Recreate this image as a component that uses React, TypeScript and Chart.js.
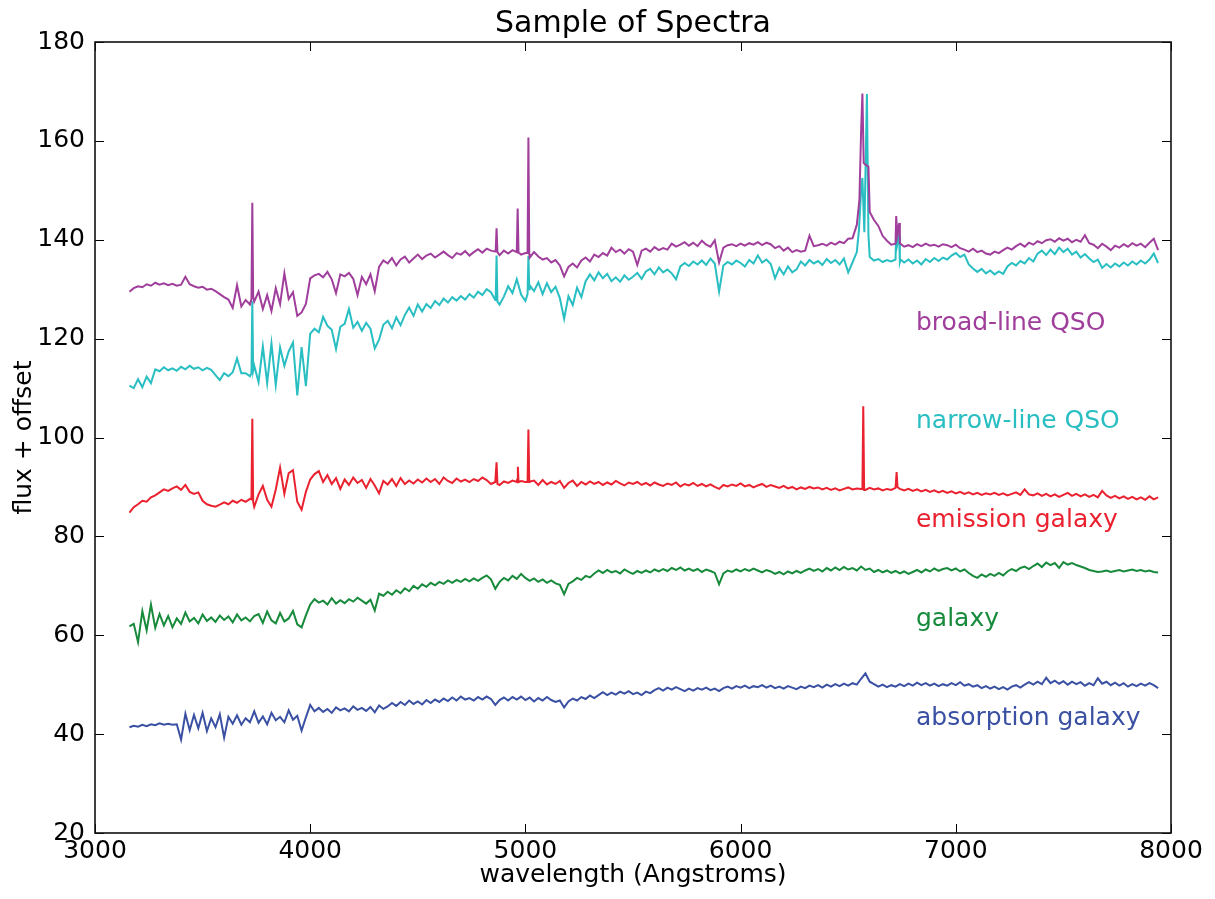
import React, { useEffect, useRef } from "react";
import { Chart, registerables } from "chart.js";

Chart.register(...registerables);

// Wavelength grid (Angstroms): 3160, 3180, ... 7940
const WAVE_START = 3160;
const WAVE_STEP = 20;

// broad-line QSO (offset spectrum), one row = 200 A
const BROAD_LINE_QSO = [
  129.5, 130.2, 130.6, 130.4, 131.0, 130.7, 131.3, 130.9, 131.2, 130.8,
  131.1, 130.7, 130.9, 132.5, 131.0, 130.6, 130.3, 130.5, 129.9, 130.1,
  129.6, 129.0, 128.4, 127.9, 126.2, 130.8, 126.5, 127.8, 126.9, 127.5,
  129.5, 126.0, 128.8, 125.6, 130.2, 127.0, 133.2, 128.0, 129.4, 124.6,
  125.3, 127.0, 132.2, 132.8, 133.1, 132.4, 133.5, 132.0, 129.2, 133.0,
  132.6, 133.3, 132.1, 128.8, 132.5, 131.0, 133.0, 129.6, 134.5, 135.8,
  135.2, 136.3, 134.8, 136.0, 136.6, 135.4, 136.2, 137.0, 136.1, 136.8,
  137.2, 136.4, 137.0, 137.6, 136.9, 136.3, 137.3, 137.0, 137.7, 136.8,
  137.5, 138.1, 137.4, 138.2, 137.8, 137.6, 136.9, 137.8, 137.2, 137.9,
  137.5, 137.0, 137.3, 136.4, 137.5, 136.6, 136.0, 136.3, 135.4, 135.9,
  134.8, 132.6, 134.5, 135.2, 134.4, 135.8, 136.4, 135.6, 137.0, 136.5,
  137.3, 136.8, 138.4, 137.5, 138.0, 137.2, 138.1, 137.6, 134.9, 137.8,
  138.2, 137.6, 138.5, 137.9, 138.3, 138.0, 139.2, 138.6, 139.0, 139.5,
  138.8, 139.4, 138.7, 139.8, 139.0, 138.6, 139.9, 135.4, 138.4, 138.9,
  139.1, 138.7, 139.2, 138.8, 139.3, 139.0, 139.5, 138.9, 139.4, 139.1,
  138.3, 138.7, 137.8, 138.4, 137.5, 137.9, 137.6, 137.8, 140.8, 138.7,
  138.9, 139.2, 138.8, 139.4, 139.0, 139.6, 139.3, 140.2, 140.3, 143.0,
  162.0, 155.2, 145.6, 144.0, 142.8, 140.8, 139.8, 139.0, 139.2, 139.3,
  138.6, 138.9, 138.5, 139.1, 138.7, 139.2, 138.8, 139.0, 138.6, 139.1,
  138.9, 138.5, 139.0, 138.3, 138.0, 137.6, 138.2, 137.5, 137.8, 137.2,
  137.0, 137.6, 137.3, 137.9, 138.4, 138.0, 138.7, 139.2, 138.6, 139.4,
  139.0, 139.7, 139.3, 139.9, 140.1, 139.6, 140.3, 139.8, 140.2, 139.5,
  140.0, 139.6, 140.9, 139.3, 139.0, 138.3, 139.2, 138.6, 137.9, 138.8,
  138.4, 139.1, 138.6, 139.3, 138.8, 139.2, 138.5, 139.4, 140.2, 137.9,
];
// narrow emission lines on top of the grid: [wavelength, flux]
const BROAD_LINE_QSO_LINES = [
  [3727, 128.0], [3731, 147.5], [3735, 128.5],
  [4862, 137.8], [4866, 142.3], [4870, 137.5],
  [4960, 137.6], [4964, 146.3], [4968, 137.4],
  [5010, 137.3], [5014, 160.7], [5018, 137.1],
  [6552, 148.0], [6566, 169.6], [6572, 155.5], [6594, 154.8],
  [6723, 144.8], [6728, 141.0], [6737, 143.4], [6743, 139.2],
];

const NARROW_LINE_QSO = [
  110.5, 110.0, 111.8, 110.2, 112.3, 111.0, 113.8, 113.4, 114.2, 113.6,
  114.0, 113.5, 114.3, 113.8, 114.5, 113.9, 114.2, 113.6, 114.1, 113.7,
  112.6, 111.6, 113.0, 112.4, 113.2, 116.0, 113.0, 113.0, 112.4, 114.5,
  111.2, 118.4, 111.0, 119.0, 110.6, 118.2, 114.5, 117.4, 119.2, 108.5,
  118.3, 110.4, 121.0, 122.0, 121.3, 124.4, 122.6, 121.8, 117.9, 122.4,
  123.0, 126.0, 122.2, 123.4, 121.6, 123.2, 122.0, 118.0, 119.8, 122.8,
  123.6, 122.1, 124.3, 122.7, 124.8, 126.3, 124.6, 126.9, 125.5, 127.0,
  126.2, 127.6, 126.8, 128.1, 127.3, 128.4, 127.7, 128.6, 127.9, 129.0,
  128.3, 129.5, 128.8, 130.0, 129.4, 127.8, 126.9, 128.5, 130.6, 129.2,
  132.0, 128.9, 127.6, 130.8, 129.6, 131.4, 129.0, 131.2, 129.4, 130.5,
  128.2, 124.0, 128.6, 126.8, 130.3, 128.4, 131.6, 133.0, 131.8, 133.4,
  132.2, 133.1, 131.6, 132.4, 131.5, 132.8, 131.9, 132.5, 133.3, 132.1,
  133.6, 134.1, 133.0, 134.4, 133.4, 134.0, 133.2, 132.0, 134.6, 135.3,
  134.7, 135.6, 135.0, 135.8, 134.9, 136.2, 135.2, 129.5, 134.8, 135.5,
  135.0, 135.8, 135.3, 134.6, 135.9, 135.2, 136.8, 135.4, 136.0, 135.1,
  132.2, 134.3, 133.0, 134.6, 133.4, 134.0, 135.6, 134.8, 135.9, 135.2,
  135.7, 134.9, 136.1, 135.3, 135.9, 135.0, 136.2, 133.4, 135.4, 137.5,
  150.0, 153.0, 136.5, 135.8, 136.1, 135.5, 135.9, 135.6, 136.0, 135.5,
  135.4, 136.0, 135.2, 135.8, 135.0, 136.1, 135.5, 136.3, 135.7, 136.4,
  136.0, 136.8, 137.3, 136.5, 137.0, 135.0, 134.2, 133.5, 134.1, 133.2,
  133.8, 133.0, 133.6, 133.1, 134.6, 135.3, 134.8, 135.7, 135.2, 136.3,
  135.6, 137.2, 137.8, 136.9, 138.0, 137.1, 138.4, 137.5, 138.2, 137.0,
  137.6, 136.4, 137.1, 136.2, 135.5, 136.0, 134.3, 135.1, 134.4, 135.2,
  134.6, 135.4, 134.8, 135.6, 135.0, 135.8, 135.2, 136.0, 137.2, 135.3,
];
const NARROW_LINE_QSO_LINES = [
  [3727, 113.0], [3731, 127.6], [3735, 113.5],
  [4862, 128.0], [4866, 136.8], [4870, 127.5],
  [5010, 129.0], [5014, 136.7], [5018, 130.0],
  [6550, 142.0], [6566, 152.5], [6575, 141.5], [6587, 169.5], [6594, 141.0],
  [6723, 141.7], [6728, 139.0], [6737, 141.0], [6743, 136.0],
];

const EMISSION_GALAXY = [
  84.8, 85.9, 86.5, 87.2, 87.0, 87.9, 88.3, 88.9, 89.5, 89.2,
  89.7, 90.1, 89.4, 90.4, 89.0, 88.6, 88.9, 87.2, 86.5, 86.2,
  86.0, 86.4, 86.9, 86.5, 87.2, 86.8, 87.4, 87.0, 87.6, 86.0,
  88.5, 90.2, 87.4, 86.0, 89.5, 93.9, 88.6, 92.8, 93.4, 87.0,
  85.4, 89.0, 91.5, 92.6, 93.2, 91.0, 92.4, 90.6, 91.8, 89.6,
  91.5, 90.4, 91.9, 90.8, 91.4, 89.8, 91.6, 90.3, 88.7, 91.2,
  90.5, 91.6, 90.2, 91.8, 90.6, 91.3, 90.7, 91.5, 90.9, 91.7,
  91.0, 91.6, 90.6, 91.9, 91.2, 90.8, 91.7, 91.1, 91.5, 91.0,
  91.6, 91.2, 91.9, 91.4, 90.6, 91.0, 90.4, 91.1, 90.8, 91.3,
  91.0, 91.2, 91.0, 91.1, 91.3, 90.4, 91.4, 90.5, 91.0, 90.6,
  91.2, 89.8, 90.8, 91.3, 90.2, 91.0, 90.5, 91.1, 90.6, 91.0,
  90.4, 90.9, 90.5, 91.2, 90.7, 90.3, 90.9, 90.6, 91.0, 90.4,
  90.8, 90.3, 90.9, 90.5, 90.2, 90.7, 90.4, 90.9, 90.1, 90.6,
  90.3, 90.8, 90.2, 90.6, 90.1, 90.5, 90.0, 89.6, 90.4, 90.1,
  90.5, 90.2, 90.7, 90.1, 90.4, 89.9, 90.3, 90.6, 90.0, 90.4,
  90.1, 89.8, 90.2, 89.7, 90.0, 89.5, 89.9, 89.6, 90.0, 89.7,
  89.9, 89.5, 89.8, 89.4, 89.7, 89.3, 89.6, 89.9, 89.5, 89.7,
  89.6, 89.4, 89.8, 89.5, 89.7, 89.3, 89.6, 89.4, 89.8, 89.6,
  89.3, 89.6, 89.2, 89.5, 89.1, 89.4, 89.0, 89.3, 88.9, 89.2,
  88.8, 89.1, 88.7, 89.0, 88.6, 88.9, 88.5, 88.8, 88.4, 88.7,
  88.5, 88.8, 88.4, 88.7, 88.3, 88.6, 88.9, 88.4, 89.5, 88.5,
  88.3, 88.7, 88.2, 88.6, 88.1, 88.5, 88.0, 88.4, 88.8, 88.2,
  88.6, 88.1, 88.5, 88.0, 88.4, 87.9, 89.2, 88.3, 87.8, 88.2,
  87.7, 88.1, 87.6, 88.0, 87.5, 87.9, 87.4, 88.1, 87.5, 87.9,
];
const EMISSION_GALAXY_LINES = [
  [3727, 87.5], [3731, 103.8], [3735, 87.0],
  [4862, 91.0], [4866, 95.0], [4870, 90.6],
  [4962, 91.5], [4965, 94.1], [4968, 91.0],
  [5010, 91.0], [5014, 101.6], [5018, 91.0],
  [6566, 89.6], [6570, 106.3], [6574, 89.4],
  [6722, 89.8], [6725, 93.0], [6729, 90.0],
];

const GALAXY = [
  61.8, 62.3, 58.6, 64.9, 61.0, 66.2, 61.5, 64.3, 62.0, 63.9,
  61.6, 63.4, 62.3, 64.6, 62.8, 63.5, 62.4, 64.2, 62.9, 63.6,
  62.7, 64.0, 63.1, 63.8, 62.6, 64.2, 63.0, 63.6, 62.8, 63.9,
  64.3, 62.5, 64.8, 63.0, 62.4, 64.5, 62.8, 63.4, 64.9, 62.2,
  61.6, 64.0, 66.2, 67.3, 66.6, 67.0, 66.2, 67.5, 66.4, 67.1,
  66.5, 67.3, 66.8, 67.6, 67.0, 66.4, 67.2, 65.0, 68.4, 68.0,
  68.8, 68.2, 69.1, 68.5, 69.5, 68.9, 70.0, 69.4, 70.3, 69.8,
  70.6, 70.1, 70.8, 70.4, 71.1, 70.6, 71.2, 70.8, 71.4, 70.9,
  71.5, 71.0, 71.6, 72.1, 71.3, 69.4, 70.8, 71.6, 71.1, 72.0,
  71.4, 72.4, 71.6, 71.0, 71.5, 70.8, 71.3, 70.6, 71.1, 70.5,
  70.2, 68.3, 70.4, 70.9, 71.6, 71.2, 72.0, 71.7, 72.5, 73.1,
  72.6, 73.2, 72.7, 73.0, 72.5, 73.3, 72.8, 72.4, 73.0, 72.6,
  73.1, 72.7, 73.3, 72.9, 73.4, 73.0, 73.6, 73.2, 73.7, 73.1,
  73.5, 73.0, 73.4, 72.8, 73.3, 73.0, 72.6, 70.3, 72.5, 73.1,
  72.8, 73.3, 72.9, 73.4, 73.0, 73.5, 73.1, 72.7, 73.2, 72.9,
  72.4, 72.8, 72.3, 72.9, 72.5, 73.0, 72.6, 73.1, 73.5, 73.0,
  73.4, 72.9, 73.6, 73.1, 73.7, 73.2, 73.8, 73.3, 73.6, 73.1,
  73.9, 73.2, 73.5, 72.8, 73.2, 72.7, 73.1, 72.6, 73.0, 72.5,
  72.9, 72.4, 72.8, 73.2, 72.7, 73.3, 72.9, 73.5, 73.0, 73.4,
  73.6, 73.1, 73.5, 72.9, 73.3, 72.6, 72.0, 71.6, 72.3, 71.8,
  72.4, 72.0, 72.6, 72.1, 72.9, 73.4, 73.0, 73.6, 73.9, 73.4,
  74.0, 74.5, 73.8, 74.7, 74.2, 74.6, 73.6, 74.8, 74.3, 74.6,
  74.2, 73.9, 73.6, 73.2, 73.0, 72.8, 72.9, 73.1, 72.8, 73.0,
  73.2, 72.9, 73.1, 73.3, 73.0, 73.2, 72.9, 73.1, 72.8, 72.7,
];

const ABSORPTION_GALAXY = [
  41.4, 41.7, 41.5, 41.9, 41.6, 42.0, 41.8, 42.2, 41.9, 42.1,
  41.9, 42.0, 38.9, 44.1, 40.8, 43.9, 41.2, 44.3, 40.6, 43.2,
  41.4, 44.0, 39.3, 43.5, 42.1, 43.8, 41.9, 43.2, 42.4, 44.6,
  42.3, 43.6, 42.0, 44.3, 42.8, 43.5, 42.4, 44.8, 42.9, 43.7,
  40.7, 43.4, 45.9, 44.6, 45.3, 44.5, 45.1, 44.3, 45.4, 44.8,
  45.2, 44.6, 45.6, 44.9, 45.3, 44.7, 45.5, 44.4, 45.8, 45.1,
  45.6, 46.3, 45.7, 46.5, 45.9, 46.8, 46.1, 46.6, 46.0, 46.9,
  46.3, 47.0, 46.5, 47.2, 46.7, 47.4, 46.8, 47.6, 47.0, 47.3,
  46.8, 47.5, 47.0, 47.6, 47.1, 45.9, 46.9, 47.4, 46.8, 47.5,
  47.0, 47.6, 46.9, 47.4, 46.6, 47.3, 46.8, 47.5, 46.9, 46.5,
  46.8, 45.4, 46.6, 47.2, 46.8, 47.5, 47.1, 47.8, 47.3, 47.9,
  48.5, 47.9, 48.4, 48.0, 48.6, 48.2, 48.7, 48.1, 48.4, 47.9,
  48.6, 48.3, 48.9, 49.3, 48.8, 49.4, 49.0, 49.5, 49.1, 48.7,
  49.2, 48.8, 49.3, 49.0, 49.4, 48.9, 49.2, 48.7, 49.3, 49.6,
  49.2, 49.7, 49.4, 49.8, 49.3, 49.7, 49.5, 49.9, 49.4, 49.8,
  49.3, 49.6, 49.2, 49.7, 49.4, 49.1, 49.6, 49.3, 49.8, 49.5,
  49.9, 49.4, 50.0, 49.6, 50.1, 49.7, 50.2, 49.8, 50.3, 50.0,
  51.2, 52.3, 50.6, 50.1, 49.6, 50.0, 49.5, 49.9, 49.6, 50.1,
  49.7, 50.2, 49.8, 50.4, 49.9, 50.3, 49.8, 50.2, 49.7, 50.1,
  49.8, 50.3, 49.9, 50.5, 49.8, 50.1, 49.6, 49.9, 49.3, 49.7,
  49.2, 49.6, 49.1, 49.5, 49.0, 49.6, 49.9, 49.4, 50.0, 50.5,
  50.0, 50.6, 50.1, 51.4, 50.3, 50.8, 50.2, 50.7, 50.0, 50.6,
  50.1, 50.5, 49.8, 50.3, 49.9, 51.3, 50.2, 50.6, 49.9, 50.4,
  49.8, 50.3, 49.6, 50.1, 49.7, 50.2, 49.8, 50.3, 49.9, 49.3,
];

const SERIES_NAMES = ["broad-line QSO", "narrow-line QSO", "emission galaxy", "galaxy", "absorption galaxy"];
const SERIES_COLORS = ["#a03e9c", "#28bec2", "#ea2230", "#178a3b", "#3a50a2"];
const LABEL_X = 6815;
const LABEL_Y = [121.8, 101.9, 81.8, 61.8, 41.9];
const X_TICKS = [3000, 4000, 5000, 6000, 7000, 8000];
const Y_TICKS = [20, 40, 60, 80, 100, 120, 140, 160, 180];
const TITLE = "Sample of Spectra";
const X_TITLE = "wavelength (Angstroms)";
const Y_TITLE = "flux + offset";

const FONT = "'DejaVu Sans', 'Liberation Sans', sans-serif";

function buildSeries(values: number[], lines: number[][]) {
  const pts = values.map((y, i) => ({ x: WAVE_START + i * WAVE_STEP, y }));
  for (const [x, y] of lines) pts.push({ x, y });
  pts.sort((a, b) => a.x - b.x);
  return pts;
}

const framePlugin = {
  id: "frameAndText",
  afterDraw(chart: any) {
    const { ctx, chartArea } = chart;
    const xs = chart.scales.x;
    const ys = chart.scales.y;
    const { left, right, top, bottom } = chartArea;
    ctx.save();
    // ticks (inside, all four sides)
    ctx.strokeStyle = "#000";
    ctx.lineWidth = 1;
    const tl = 9;
    ctx.beginPath();
    for (const v of X_TICKS) {
      const px = Math.round(xs.getPixelForValue(v)) + 0.5;
      ctx.moveTo(px, bottom);
      ctx.lineTo(px, bottom - tl);
      ctx.moveTo(px, top);
      ctx.lineTo(px, top + tl);
    }
    for (const v of Y_TICKS) {
      const py = Math.round(ys.getPixelForValue(v)) + 0.5;
      ctx.moveTo(left, py);
      ctx.lineTo(left + tl, py);
      ctx.moveTo(right, py);
      ctx.lineTo(right - tl, py);
    }
    ctx.stroke();
    // frame
    ctx.lineWidth = 1.6;
    ctx.strokeStyle = "#111";
    ctx.strokeRect(left, top, right - left, bottom - top);

    // series labels
    ctx.font = `25px ${FONT}`;
    ctx.textAlign = "left";
    ctx.textBaseline = "alphabetic";
    SERIES_NAMES.forEach((name, i) => {
      ctx.fillStyle = SERIES_COLORS[i];
      ctx.fillText(name, xs.getPixelForValue(LABEL_X), ys.getPixelForValue(LABEL_Y[i]));
    });

    // title and axis titles
    ctx.fillStyle = "#000";
    ctx.textAlign = "center";
    ctx.font = `30px ${FONT}`;
    ctx.fillText(TITLE, (left + right) / 2, 32);
    ctx.font = `25px ${FONT}`;
    ctx.fillText(X_TITLE, (left + right) / 2, 882);
    ctx.save();
    ctx.translate(31, (top + bottom) / 2);
    ctx.rotate(-Math.PI / 2);
    ctx.fillText(Y_TITLE, 0, 0);
    ctx.restore();
    ctx.restore();
  },
};

export default function App() {
  const canvasRef = useRef<HTMLCanvasElement | null>(null);

  useEffect(() => {
    const canvas = canvasRef.current;
    if (!canvas) return;
    const seriesData = [
      buildSeries(BROAD_LINE_QSO, BROAD_LINE_QSO_LINES),
      buildSeries(NARROW_LINE_QSO, NARROW_LINE_QSO_LINES),
      buildSeries(EMISSION_GALAXY, EMISSION_GALAXY_LINES),
      buildSeries(GALAXY, []),
      buildSeries(ABSORPTION_GALAXY, []),
    ];
    const chart = new Chart(canvas, {
      type: "line",
      data: {
        datasets: seriesData.map((d, i) => ({
          label: SERIES_NAMES[i],
          data: d,
          borderColor: SERIES_COLORS[i],
          backgroundColor: SERIES_COLORS[i],
          borderWidth: 2,
          pointRadius: 0,
          tension: 0,
          fill: false,
        })),
      },
      options: {
        animation: false,
        responsive: false,
        devicePixelRatio: 1,
        parsing: false,
        normalized: true,
        layout: { padding: { top: 42, right: 44, left: 0, bottom: 0 } },
        plugins: {
          legend: { display: false },
          tooltip: { enabled: false },
          title: { display: false },
        },
        scales: {
          x: {
            type: "linear",
            min: 3000,
            max: 8000,
            afterFit: (s: any) => { s.height = 66; },
            afterBuildTicks: (s: any) => { s.ticks = X_TICKS.map((v) => ({ value: v })); },
            grid: { display: false, drawTicks: false },
            border: { display: false },
            ticks: {
              color: "#000",
              font: { family: FONT, size: 25 },
              padding: 3,
              maxRotation: 0,
              autoSkip: false,
              callback: (v: any) => String(v),
            },
          },
          y: {
            type: "linear",
            min: 20,
            max: 180,
            afterFit: (s: any) => { s.width = 95; },
            afterBuildTicks: (s: any) => { s.ticks = Y_TICKS.map((v) => ({ value: v })); },
            grid: { display: false, drawTicks: false },
            border: { display: false },
            ticks: {
              color: "#000",
              font: { family: FONT, size: 25 },
              padding: 10,
              autoSkip: false,
              callback: (v: any) => String(v),
            },
          },
        },
      },
      plugins: [framePlugin],
    });
    return () => chart.destroy();
  }, []);

  return (
    <div style={{ position: "absolute", left: 0, top: 0, width: 1215, height: 899, background: "#fff" }}>
      <canvas ref={canvasRef} width={1215} height={899} style={{ display: "block" }} />
    </div>
  );
}
